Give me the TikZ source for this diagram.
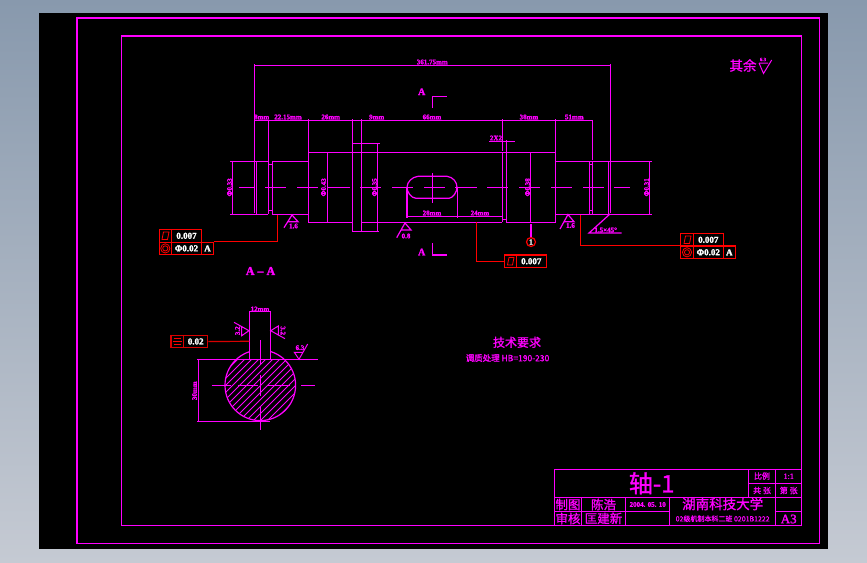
\documentclass[tikz,border=0pt]{standalone}
\usepackage{fontspec}
\setmainfont[FakeBold=1.6]{Liberation Serif}
\newfontfamily\cjk[FakeBold=1.2]{Noto Sans CJK SC}
\newfontfamily\cjkthin{Noto Sans CJK SC}
\definecolor{mg}{HTML}{FF00FF}
\definecolor{rd}{HTML}{FF0000}
\definecolor{dkrd}{HTML}{D80000}
\tikzset{
  part/.style={draw=mg,line width=1.2pt},
  rl/.style={draw=rd,line width=1.2pt},
  lab/.style={text=mg,inner sep=0pt,font=\fontsize{7}{8}\selectfont\bfseries},
  biglab/.style={text=mg,inner sep=0pt,font=\fontsize{12}{13}\selectfont\bfseries},
  cn/.style={text=mg,inner sep=0pt,font=\cjk\fontsize{12}{13}\selectfont},
  cell/.style={draw=rd,line width=1.2pt,inner sep=0pt,minimum height=12.6pt,text=white,font=\fontsize{9}{10}\selectfont\bfseries},
}
\begin{document}
\begin{tikzpicture}[x=1pt,y=-1pt]
\useasboundingbox (0,0) rectangle (867,562);
\shade[top color={rgb,255:red,136;green,153;blue,173},bottom color={rgb,255:red,197;green,202;blue,211}] (0,0) rectangle (867,562);
\fill[black] (39,13) rectangle (828,549);
% frames
\draw[part] (77,18) rectangle (819.7,543.5);
\draw[part] (121.5,36) rectangle (801.7,525.3);

% ---- dimension lines
\draw[part] (254.3,64) -- (254.3,213) (610.3,64) -- (610.3,213);
\draw[part] (254.3,65.3) -- (610.3,65.3);
\draw[part] (254.3,120.3) -- (592.7,120.3);
\draw[part] (268.3,120) -- (268.3,214.3);
\draw[part] (308.3,119) -- (308.3,222.3);
\draw[part] (352.3,119) -- (352.3,231.7) (361.3,119) -- (361.3,231.7);
\draw[part] (502.3,119) -- (502.3,151) (502.3,152.3) -- (502.3,222.3);
\draw[part] (555.7,119) -- (555.7,222.3);
\draw[part] (592.7,120) -- (592.7,160) (592.7,161.3) -- (592.7,214.3);

% ---- shaft outline
\draw[part] (230,161.3) -- (268.3,161.3) (230,214.3) -- (268.3,214.3);
\draw[part] (232.3,161.3) -- (232.3,214.3) (256.3,161.3) -- (256.3,214.3);
\draw[part] (268.3,164.3) -- (272.3,164.3) (268.3,210.3) -- (272.3,210.3);
\draw[part] (272.3,161.3) -- (272.3,214.3);
\draw[part] (272.3,161.3) -- (308.3,161.3) (272.3,214.3) -- (308.3,214.3);
\draw[part] (308.3,152.3) -- (555.7,152.3) (308.3,222.3) -- (352.3,222.3) (361.3,222.3) -- (502.3,222.3) (506.3,222.3) -- (555.7,222.3);
\draw[part] (352.3,143.3) -- (380,143.3) (352.3,231.7) -- (379,231.7);
\draw[part] (377.3,143.3) -- (377.3,231.7);
\draw[part] (327.3,152.3) -- (327.3,222.3);
\draw[part] (506.3,140) -- (506.3,222.3);
\draw[part] (502.3,219.3) -- (506.3,219.3);
\draw[part] (530.3,152.3) -- (530.3,222.3);
\draw[part] (555.7,161.3) -- (651.7,161.3) (555.7,214.3) -- (651.7,214.3);
\draw[part] (589.3,161.3) -- (589.3,214.3);
\draw[part] (589.3,164.3) -- (592.7,164.3) (589.3,210.3) -- (592.7,210.3);
\draw[part] (608.3,161.3) -- (608.3,214.3);
\draw[part] (649.3,161.3) -- (649.3,214.3);
% centre line
\draw[part] (239,187.3) -- (254,187.3) (265,187.3) -- (286,187.3) (297,187.3) -- (318,187.3) (327,187.3) -- (350,187.3)
  (360,187.3) -- (381,187.3) (392,187.3) -- (413,187.3) (424,187.3) -- (445,187.3) (455,187.3) -- (477,187.3)
  (487,187.3) -- (508,187.3) (519,187.3) -- (540,187.3) (551,187.3) -- (572,187.3) (583,187.3) -- (604,187.3) (614,187.3) -- (630,187.3);
% keyway
\draw[part] (418,176.3) -- (447,176.3) .. controls (453,177) and (457,182) .. (457,187.3) .. controls (457,192) and (453,198) .. (449,198.3) -- (416,198.3) .. controls (411,198) and (407,192) .. (407,187.3) .. controls (407,182) and (412,177) .. (418,176.3) -- cycle;
\draw[part] (432.3,173) -- (432.3,203);
\draw[part] (407,187.3) -- (407,217.7) (457.3,187.3) -- (457.3,217.7);
\draw[part] (407,216.3) -- (502.3,216.3);
\draw[part] (489,141.3) -- (515,141.3);

% ---- section arrows
\draw[part] (432.3,108) -- (432.3,96.7) -- (447,96.7);
\draw[part] (432.3,243) -- (432.3,255) -- (447,255);
\node[biglab,font=\fontsize{10}{11}\selectfont\bfseries] (sa) at (421.7,91.7) {A};
\node[biglab,font=\fontsize{10}{11}\selectfont\bfseries] (sb) at (421.7,252) {A};
\node[biglab] (aa) at (260.5,271) {A – A};

% ---- chamfer
\coordinate (chamA) at (610,214);
\coordinate (chamB) at (589,233);
\coordinate (chamC) at (621.7,233);
\draw[part] (chamA) -- (chamB) -- (chamC);
\node[lab] (chamt) at (605.7,230) {1.5×45°};

% ---- roughness marks on the shaft
\draw[part] (284,227.7) -- (292,215) -- (298,221.7) -- (287.7,221.7);
\draw[part] (396.7,237.7) -- (405,223) -- (411,230) -- (401,230);
\draw[part] (560,229) -- (568,214.5) -- (574,221.7) -- (564,221.7);
\node[lab] (r1) at (293.5,226) {1.6};
\node[lab] (r2) at (406,236) {0.8};
\node[lab] (r3) at (570.5,225.5) {1.6};

% ---- dimension texts
\node[lab] (d0) at (432.3,62) {361.75mm};
\node[lab] (d1) at (261.7,117) {8mm};
\node[lab] (d2) at (288,117) {22.15mm};
\node[lab] (d3) at (330.7,117) {26mm};
\node[lab] (d4) at (376.7,117) {9mm};
\node[lab] (d5) at (432,117) {66mm};
\node[lab] (d6) at (529,117) {38mm};
\node[lab] (d7) at (574.3,117) {51mm};
\node[lab] (d8) at (496,138) {2X2};
\node[lab] (d9) at (432,213) {28mm};
\node[lab] (d10) at (480,213) {24mm};
\node[lab,rotate=90] (v1) at (229.5,187.3) {Φ0.33};
\node[lab,rotate=90] (v2) at (323.5,187.3) {Φ0.43};
\node[lab,rotate=90] (v3) at (374.5,187.3) {Φ0.35};
\node[lab,rotate=90] (v4) at (527.5,187.3) {Φ0.38};
\node[lab,rotate=90] (v5) at (646.5,187.3) {Φ0.31};

% ---- tolerance frames: left
\node[cell,minimum width=12pt] (la1) at (165.3,235.8) {};
\node[cell,minimum width=30.4pt] (la2) at (186.5,235.8) {0.007};
\node[cell,minimum width=12pt] (lb1) at (165.3,248.4) {};
\node[cell,minimum width=30.4pt] (lb2) at (186.5,248.4) {Φ0.02};
\node[cell,minimum width=11.6pt] (lb3) at (207.5,248.4) {A};
\coordinate (lend) at (277.3,214.7);
\draw[rl] (lb3.north east) -| (lend);
\draw[rl,line width=.8pt] (162,239.5) -- (163.5,232) -- (169,232) -- (167.5,239.5) -- cycle;
\draw[rl,line width=.8pt] (165.3,248.4) circle (4.6) (165.3,248.4) circle (2.6);

% ---- tolerance frames: right
\node[cell,minimum width=12.6pt] (ra1) at (687,239.8) {};
\node[cell,minimum width=30pt] (ra2) at (708.3,239.8) {0.007};
\node[cell,minimum width=12.6pt] (rb1) at (687,252.3) {};
\node[cell,minimum width=30pt] (rb2) at (708.3,252.3) {Φ0.02};
\node[cell,minimum width=12pt] (rb3) at (729.3,252.3) {A};
\coordinate (rend) at (580.3,214.5);
\draw[rl] (rb1.north west) -| (rend);
\draw[rl,line width=.8pt] (684,243.5) -- (685.5,236) -- (691,236) -- (689.5,243.5) -- cycle;
\draw[rl,line width=.8pt] (687,252.3) circle (4.6) (687,252.3) circle (2.6);

% ---- tolerance frame: middle
\node[cell,minimum width=12pt] (ma1) at (510.3,261.3) {};
\node[cell,minimum width=30pt] (ma2) at (531.3,261.3) {0.007};
\coordinate (mend) at (476.3,222.3);
\draw[rl] (ma1.west) -| (mend);
\draw[rl,line width=.8pt] (507.5,265) -- (509,257.5) -- (514,257.5) -- (512.5,265) -- cycle;

% ---- datum balloon
\node[draw=rd,line width=1.2pt,circle,inner sep=0pt,minimum size=9pt,text=white,font=\fontsize{8}{9}\selectfont\bfseries] (bal) at (531,242) {1};
\coordinate (balend) at (531,224);
\draw[part] (balend) -- (bal.north);

% ---- section A-A
\begin{scope}
\clip (225,359.8) rectangle (296,421);
\clip (260.3,385.3) circle (35.3);
\foreach \c in {576,583,...,716} { \draw[part,line width=.9pt] (\c-340,340) -- (\c-430,430); }
\end{scope}
\draw[part] (260.3,385.3) circle (35.3);
\fill[black] (250,345) rectangle (270,358.8);
\draw[part] (249.3,311.7) -- (270.7,311.7);
\draw[part] (249.3,311.7) -- (249.3,359.3) (270.7,311.7) -- (270.7,359.3);
\draw[part] (197,359.3) -- (317.7,359.3);
\draw[part] (197,421.3) -- (270,421.3);
\draw[part] (198.3,359.3) -- (198.3,421.3);
\draw[part] (260.3,340) -- (260.3,365) (260.3,375) -- (260.3,395.7) (260.3,406.7) -- (260.3,430);
\draw[part] (211.7,385.3) -- (231,385.3) (238,385.3) -- (258,385.3) (268,385.3) -- (290,385.3) (301,385.3) -- (315,385.3);
\node[lab] (kw) at (260,309) {12mm};
\node[lab,rotate=90] (kh) at (194.5,390.7) {30mm};
\draw[part,line width=1pt] (234,322.3) -- (249,330.7) -- (241.7,335.7) -- (241.7,326);
\draw[part,line width=1pt] (285,338.7) -- (270.7,330.7) -- (278.3,326) -- (278.3,335.7);
\draw[part,line width=1pt] (307.7,344) -- (299,359.3) -- (294.3,352.3) -- (303.3,352.3);
\node[lab,rotate=90] (kl) at (237.5,330.7) {3.2};
\node[lab,rotate=-90] (kr) at (283,330.7) {3.2};
\node[lab] (kt) at (300,347.7) {6.3};
% symmetry frame
\node[cell,draw=dkrd,minimum width=12.7pt] (sy1) at (177.3,341.5) {};
\node[cell,draw=dkrd,minimum width=24pt] (sy2) at (195.7,341.5) {0.02};
\coordinate (syend) at (249.3,341.3);
\draw[draw=dkrd,line width=1.2pt] (sy2.east) -- (syend);
\draw[draw=rd,line width=.8pt] (173.5,338) -- (181,338) (172.5,341.3) -- (182,341.3) (173.5,344.6) -- (181,344.6);

% ---- notes
\node[cn] (n1) at (517,342.3) {技术要求};
\node[cn,font=\cjk\fontsize{8.5}{9}\selectfont] (n2) at (507.5,358) {调质处理 HB=190-230};
\node[cn,font=\cjk\fontsize{13.5}{14}\selectfont] (n3) at (743,65.5) {其余};
\draw[part,line width=1pt] (759,63) -- (763.5,73.5) -- (771.7,60) (759,63) -- (768,63);
\node[lab,font=\fontsize{5}{6}\selectfont\bfseries] (n4) at (763,59.5) {6.3};

% ---- title block
\draw[part] (554.3,469.3) rectangle (801.7,525.3);
\draw[part] (554.3,497.3) -- (801.7,497.3);
\draw[part] (554.3,511.3) -- (669.7,511.3) (775.7,511.3) -- (801.7,511.3);
\draw[part] (748.3,483.3) -- (801.7,483.3);
\draw[part] (748.3,469.3) -- (748.3,497.3);
\draw[part] (775.7,469.3) -- (775.7,525.3);
\draw[part] (581.7,497.3) -- (581.7,525.3) (625.3,497.3) -- (625.3,525.3) (669.7,497.3) -- (669.7,525.3);
\node[cn,font=\cjk\fontsize{24}{26}\selectfont] (b1) at (651.7,483.3) {轴-1};
\node[cn,font=\cjk\fontsize{8}{9}\selectfont] (b2) at (762,476) {比例};
\node[lab,font=\fontsize{8}{9}\selectfont] (b3) at (788.7,476.3) {1:1};
\node[cn,font=\cjk\fontsize{8}{9}\selectfont] (b4) at (762,490.5) {共 张};
\node[cn,font=\cjk\fontsize{8}{9}\selectfont] (b5) at (788.7,490.5) {第 张};
\node[cn,font=\cjk\fontsize{12.5}{13}\selectfont] (b6) at (568,504.5) {制图};
\node[cn,font=\cjk\fontsize{12.5}{13}\selectfont] (b7) at (568,518.5) {审核};
\node[cn,font=\cjk\fontsize{12.5}{13}\selectfont] (b8) at (603.5,504.5) {陈浩};
\node[cn,font=\cjk\fontsize{12.5}{13}\selectfont] (b9) at (603.5,518.3) {匡建新};
\node[lab] (b10) at (647.7,504.5) {2004. 05. 10};
\node[cn,font=\cjk\fontsize{13.5}{14}\selectfont] (b11) at (722.7,504) {湖南科技大学};
\node[cn,font=\cjk\fontsize{7}{8}\selectfont] (b12) at (722.7,518.7) {02级机制本科二班 0201B1222};
\node[lab,font=\fontsize{13}{14}\selectfont] (b13) at (788.7,519) {A3};
\end{tikzpicture}
\end{document}
